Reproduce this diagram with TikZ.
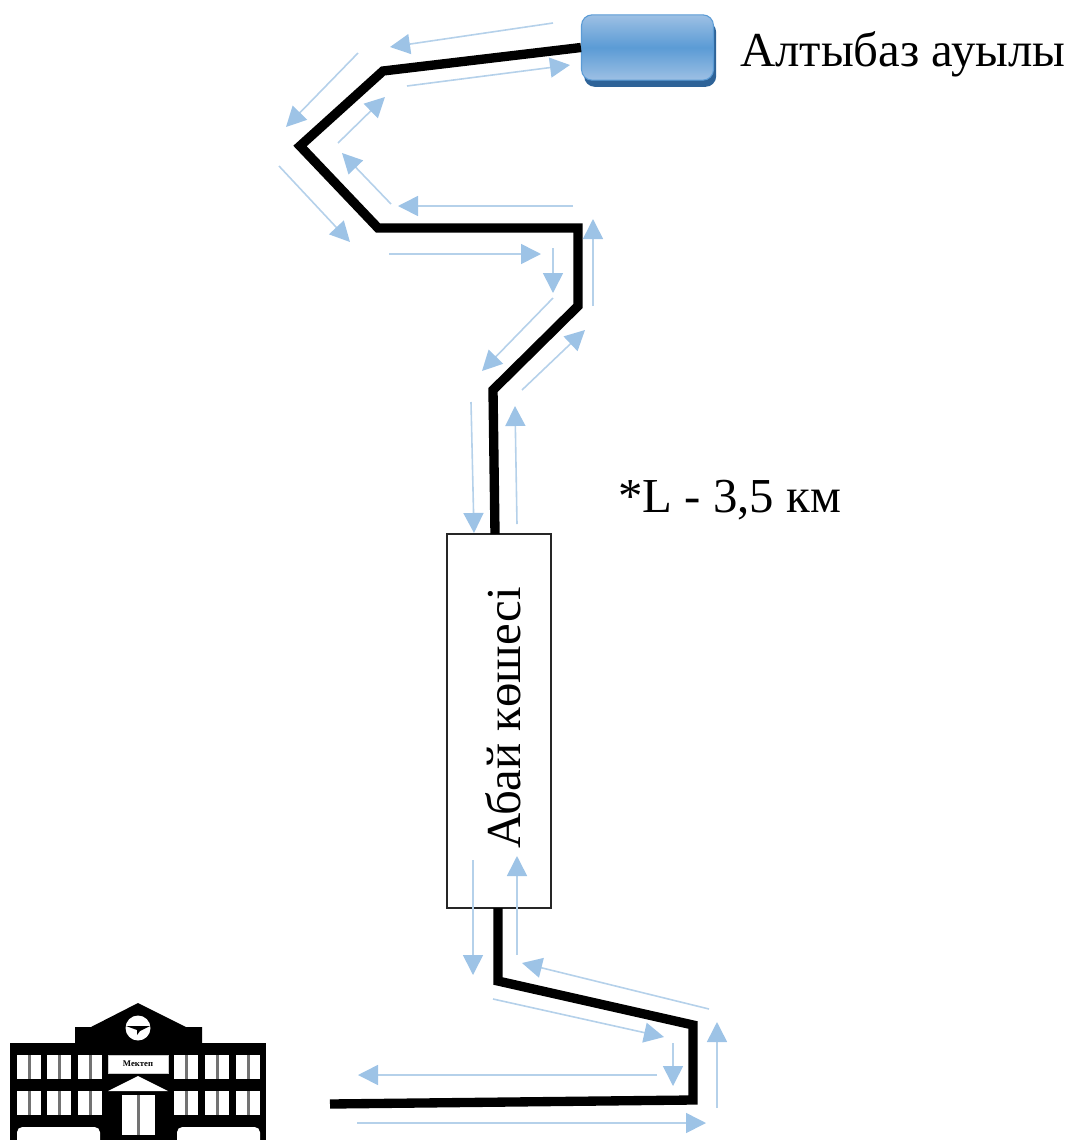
\documentclass[tikz,border=0pt]{standalone}
\usepackage{fontspec}
\setmainfont{Liberation Serif}
\usepackage{tikz}
\usetikzlibrary{arrows.meta, shadows}
\definecolor{flowline}{HTML}{B5D1EA}
\definecolor{flowhead}{HTML}{9DC3E6}
\definecolor{villagetop}{HTML}{9DC0E4}
\definecolor{villagemid}{HTML}{5B9BD5}
\definecolor{villagedark}{HTML}{2E6398}
\tikzset{
    roadline/.style={
        line width=7pt,
        line join=miter,
        black
    },
    flowarrow/.style={
        draw=flowline,
        line width=1.2pt,
        -{Triangle[length=15pt, width=15pt, color=flowhead]}
    },
    villagebox/.style={
        rectangle,
        rounded corners=8pt,
        draw=villagemid,
        line width=0.8pt,
        minimum width=99pt,
        minimum height=49pt,
        top color=villagetop,
        bottom color=villagetop,
        middle color=villagemid,
        general shadow={fill=villagedark, shadow xshift=2pt, shadow yshift=-5pt},
        inner sep=0
    },
    streetbox/.style={
        rectangle,
        draw=black!85,
        line width=1pt,
        fill=white,
        minimum width=78pt,
        minimum height=280.5pt,
        inner sep=0
    },
    routetext/.style={
        inner sep=0,
        font=\fontsize{36.6}{36.6}\selectfont
    }
}

\begin{document}
\begin{tikzpicture}[x=0.75pt, y=-0.75pt]
    \useasboundingbox (0,0) rectangle (1072,1140);
    \clip (0,0) rectangle (1072,1140);

    % road corners
    \coordinate (r1) at (383,71);
    \coordinate (r2) at (300,146);
    \coordinate (r3) at (378,228);
    \coordinate (r4) at (578,228);
    \coordinate (r5) at (578,306);
    \coordinate (r6) at (493,390);
    \coordinate (r7) at (495,534);
    \coordinate (r8) at (498,908);
    \coordinate (r9) at (498,981);
    \coordinate (r10) at (693,1025);
    \coordinate (r11) at (693,1100);
    \coordinate (r12) at (330,1104);

    % nodes
    \node (village) [villagebox] at (647.5,47.5) {};
    \node (villagename) [routetext, anchor=west] at (740,54) {Алтыбаз ауылы};
    \node (street) [streetbox] at (499,721) {};
    \node (streetname) [routetext, rotate=90] at (503,718) {Абай көшесі};
    \node (distance) [routetext, anchor=west] at (618,500) {*L - 3,5 км};

    % road
    \draw[roadline] (village.west) -- (r1) -- (r2) -- (r3) -- (r4) -- (r5) -- (r6) -- (r7);
    \draw[roadline] (r8) -- (r9) -- (r10) -- (r11) -- (r12);

    % arrows along the road
    \foreach \ax/\ay/\bx/\by [count=\i] in {
        553/23/390/47, 407/86/570/65, 358/53/286/127, 338/143/385/97,
        391/204/342/153, 279/166/350/242, 573/206/398/206, 389/254/541/254,
        553/248/553/293, 593/306/593/219, 553/298/482/371, 522/390/585/330,
        471/402/474/533, 517/524/515/406, 473/860/473/975, 517/955/517/856,
        709/1009/522/963, 493/999/664/1037, 673/1043/673/1086,
        717/1108/717/1022, 657/1075/358/1075, 357/1123/706/1123
    }{
        \coordinate (f\i a) at (\ax,\ay);
        \coordinate (f\i b) at (\bx,\by);
        \draw[flowarrow] (f\i a) -- (f\i b);
    }

    % school building
    \fill[black] (10,1043) rectangle (266,1145);
    \fill[black] (75,1043) -- (75,1027) -- (91,1027) -- (138,1003) -- (186,1027) -- (202,1027) -- (202,1043) -- cycle;
    \fill[white] (138,1028) circle (12.5);
    \fill[black] (126,1026) -- (150,1026) -- (140,1031) -- (137,1035) -- (137,1030) -- cycle;
    \foreach \wx in {17,47,78,174,205,236}{
        \foreach \wy in {1054.5,1090.5}{
            \fill[white] (\wx,\wy) rectangle ++(24,24.5);
            \fill[black!55] (\wx+11,\wy) rectangle ++(2.5,24.5);
        }
    }
    \node (sign) [fill=white, draw=black!20, minimum width=45pt, minimum height=13.5pt, inner sep=0, font=\fontsize{6.5}{6.5}\selectfont\bfseries] at (138,1064) {Мектеп};
    \fill[white] (108,1091) -- (138,1076) -- (168,1091) -- cycle;
    \fill[white] (122,1095) rectangle (155,1135);
    \fill[black!55] (137,1095) rectangle (140,1135);
    \fill[white, rounded corners=4pt] (17,1127) rectangle (100,1155);
    \fill[white, rounded corners=4pt] (177,1127) rectangle (260,1155);
\end{tikzpicture}
\end{document}
